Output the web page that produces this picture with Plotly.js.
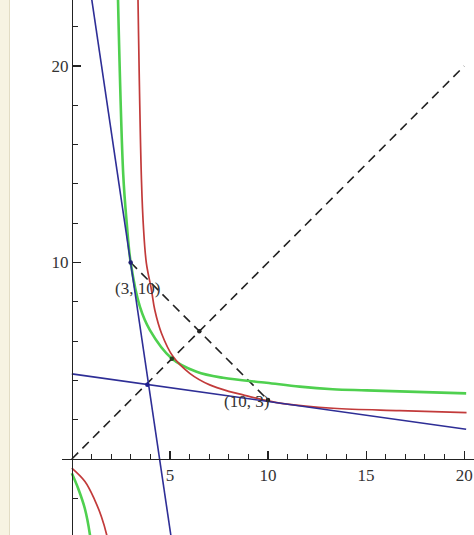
<!DOCTYPE html>
<html>
<head>
<meta charset="utf-8">
<script src="https://cdn.plot.ly/plotly-3.0.1.min.js"></script>
<style>html,body{margin:0;padding:0;background:#fff;}#chart{width:474px;height:535px;}</style>
</head>
<body>
<div id="chart"></div>
<script>
// Values
const redUpperX = [3.37, 3.55, 3.66, 3.80, 4.06, 4.23, 4.57, 5.16, 6.01, 7.03, 8.05, 8.73, 10.0, 10.77, 13.32, 16.72, 20.12];
const redUpperY = [23.6, 14.2, 11.65, 9.97, 8.60, 7.58, 6.40, 5.21, 4.36, 3.77, 3.43, 3.26, 2.96, 2.82, 2.58, 2.46, 2.36];
const redLowerX = [0, 0.67, 1.17, 1.51, 1.77, 1.82];
const redLowerY = [-0.47, -1.15, -2.09, -2.94, -3.83, -4.1];
const greenUpperX = [2.35, 2.62, 2.80, 3.0, 3.47, 3.98, 5.08, 6.36, 7.71, 9.92, 11.62, 13.3, 15.02, 20.1];
const greenUpperY = [23.6, 14.5, 12.0, 10.0, 7.75, 6.56, 5.13, 4.44, 4.13, 3.88, 3.68, 3.55, 3.49, 3.34];
const greenLowerX = [0, 0.32, 0.66, 0.92, 0.95];
const greenLowerY = [-0.73, -1.49, -2.51, -3.83, -4.1];
const blueSteepX = [1.0, 5.05];
const blueSteepY = [23.5, -3.9];
const blueFlatX = [0, 20.1];
const blueFlatY = [4.33, 1.51];
const diagX = [0, 20];
const diagY = [0, 20];
const chordX = [3, 10];
const chordY = [10, 3];
const dotX = [3, 3.85, 6.5, 5.1, 10];
const dotY = [10, 3.78, 6.5, 5.1, 3];
const labelText = ['(3, 10)', '(10, 3)'];
const labelX = [3.35, 8.9];
const labelY = [8.7, 2.92];
const xTickVals = [5, 10, 15, 20];
const xTickText = ['5', '10', '15', '20'];
const xMinorVals = [1, 2, 3, 4, 6, 7, 8, 9, 11, 12, 13, 14, 16, 17, 18, 19];
const yTickVals = [10, 20];
const yTickText = ['10', '20'];
const yMinorVals = [-2, 2, 4, 6, 8, 12, 14, 16, 18, 22];

const RED = '#c23a3a', GREEN = '#4fd04f', BLUE = '#2e2e96', DARK = '#222';

const traces = [
  {x: diagX, y: diagY, mode: 'lines', line: {color: '#222', width: 1.6, dash: '9px,6px'}},
  {x: chordX, y: chordY, mode: 'lines', line: {color: '#222', width: 1.6, dash: '9px,6px'}},
  {x: greenUpperX, y: greenUpperY, mode: 'lines', line: {color: GREEN, width: 2.6, shape: 'spline', smoothing: 1}},
  {x: greenLowerX, y: greenLowerY, mode: 'lines', line: {color: GREEN, width: 2.6, shape: 'spline'}},
  {x: redUpperX, y: redUpperY, mode: 'lines', line: {color: RED, width: 1.7, shape: 'spline', smoothing: 1}},
  {x: redLowerX, y: redLowerY, mode: 'lines', line: {color: RED, width: 1.7, shape: 'spline'}},
  {x: blueSteepX, y: blueSteepY, mode: 'lines', line: {color: BLUE, width: 1.6}},
  {x: blueFlatX, y: blueFlatY, mode: 'lines', line: {color: BLUE, width: 1.6}},
  {x: dotX, y: dotY, mode: 'markers', marker: {color: ['#1e1e70', '#1e1e90', '#222', '#224422', '#222'], size: 4.5}}
];

const annotations = labelText.map((t, i) => ({
  x: labelX[i], y: labelY[i], text: t, showarrow: false,
  font: {family: 'Liberation Serif, serif', size: 17, color: '#333'}
}));

const W = 474, H = 535, L = 62;
const xr = [-0.5, 20.5], yr = [-3.87, 23.36];

const layout = {
  width: W, height: H,
  margin: {l: L, r: 0, t: 0, b: 0, pad: 0},
  paper_bgcolor: '#fff', plot_bgcolor: 'rgba(0,0,0,0)',
  showlegend: false,
  xaxis: {
    range: xr, anchor: 'free', position: (0 - yr[0]) / (yr[1] - yr[0]),
    showgrid: false, zeroline: false, showline: true, linecolor: DARK, linewidth: 1.2,
    ticks: 'inside', ticklen: 8, tickwidth: 1.2, tickcolor: DARK,
    tickmode: 'array', tickvals: xTickVals, ticktext: xTickText,
    minor: {tickmode: 'array', tickvals: xMinorVals, ticks: 'inside', ticklen: 5, tickwidth: 1, tickcolor: DARK, showgrid: false},
    tickfont: {family: 'Liberation Serif, serif', size: 17, color: '#333'},
    automargin: false, fixedrange: true
  },
  yaxis: {
    range: yr, anchor: 'free', position: (0 - xr[0]) / (xr[1] - xr[0]),
    showgrid: false, zeroline: false, showline: true, linecolor: DARK, linewidth: 1.2,
    ticks: 'inside', ticklen: 8, tickwidth: 1.2, tickcolor: DARK,
    tickmode: 'array', tickvals: yTickVals, ticktext: yTickText,
    minor: {tickmode: 'array', tickvals: yMinorVals, ticks: 'inside', ticklen: 5, tickwidth: 1, tickcolor: DARK, showgrid: false},
    tickfont: {family: 'Liberation Serif, serif', size: 17, color: '#333'},
    automargin: false, fixedrange: true
  },
  annotations: annotations,
  shapes: [
    {type: 'rect', xref: 'paper', yref: 'paper', x0: -L / (W - L), x1: (10 - L) / (W - L), y0: 0, y1: 1,
     fillcolor: '#f7f3e2', line: {width: 0}, layer: 'below'},
    {type: 'line', xref: 'paper', yref: 'paper', x0: (9.5 - L) / (W - L), x1: (9.5 - L) / (W - L), y0: 0, y1: 1,
     line: {color: '#e2dcc4', width: 1}, layer: 'below'}
  ]
};

Plotly.newPlot('chart', traces, layout, {displayModeBar: false, staticPlot: true});
</script>
</body>
</html>
